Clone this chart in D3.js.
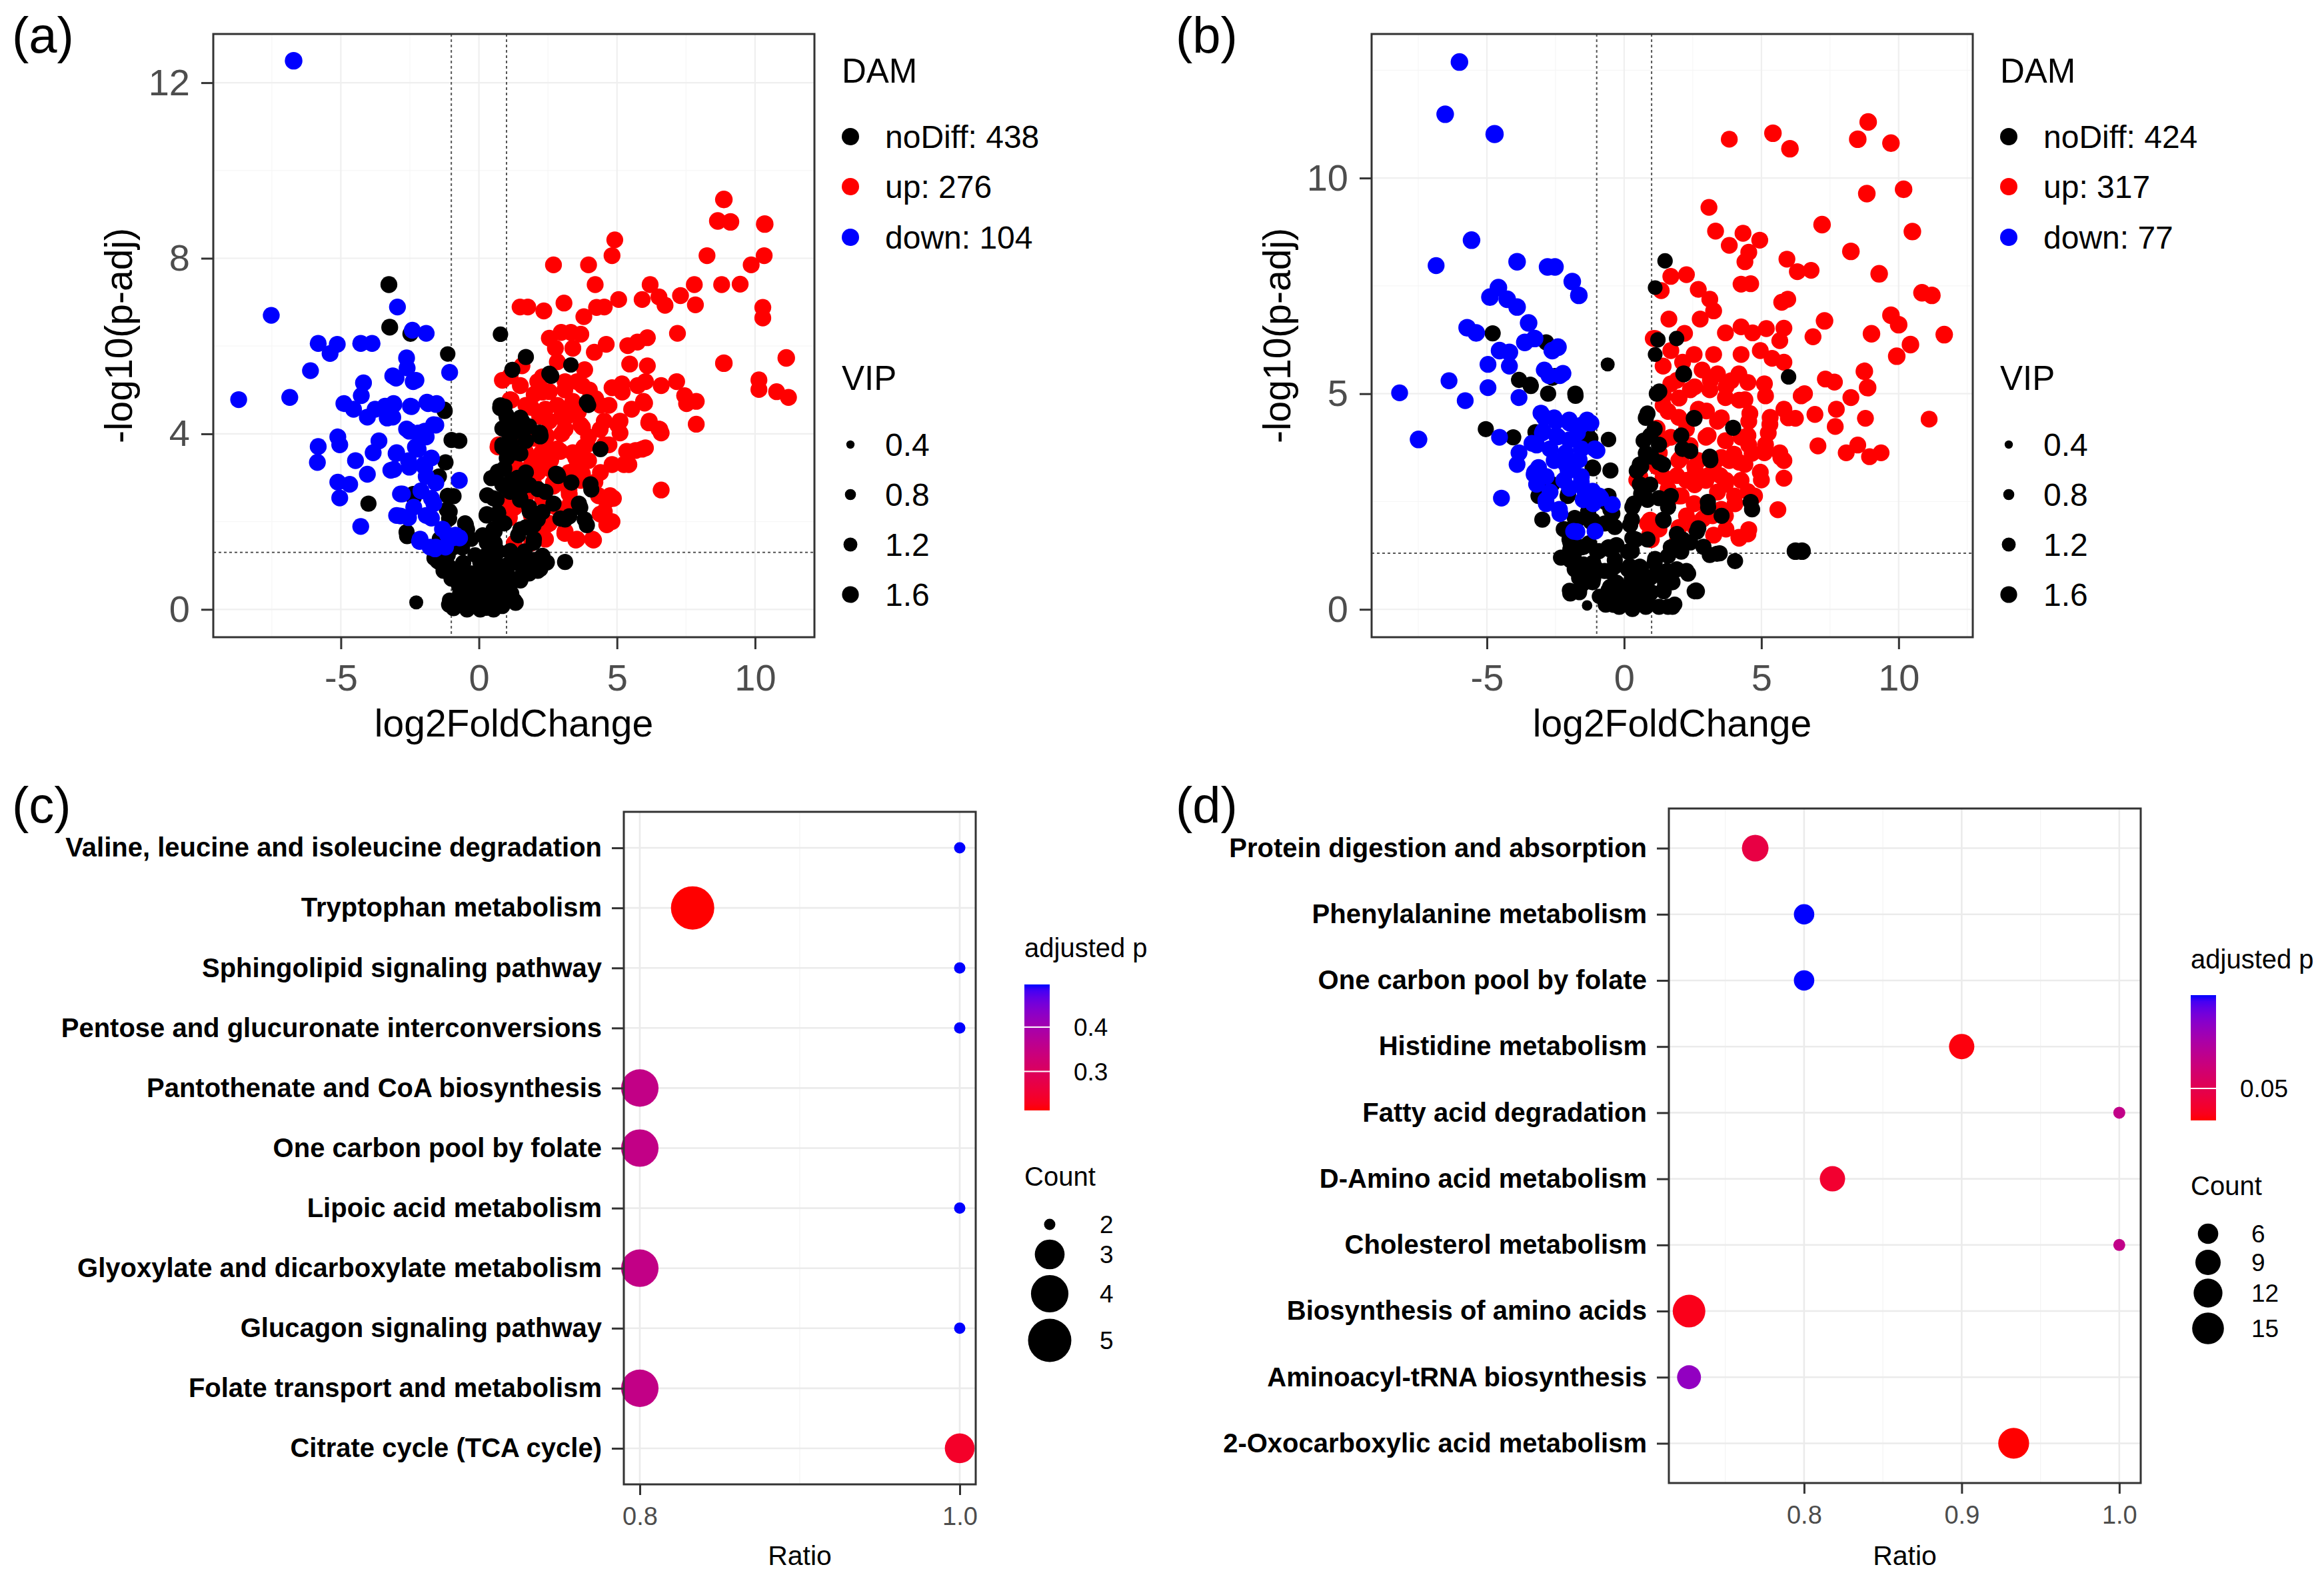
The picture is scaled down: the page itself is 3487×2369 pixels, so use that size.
<!DOCTYPE html>
<html><head><meta charset="utf-8">
<script src="https://cdn.jsdelivr.net/npm/d3@7"></script>
<style>body{margin:0;background:#fff}svg{display:block}</style>
</head><body>
<svg id="fig" width="3487" height="2369"></svg>
<script>
// ---------------- DATA ----------------
// Panel (a) volcano: [log2FoldChange, -log10(p-adj), VIP]
const aUp = [[8.87,9.34,1.6],[8.65,8.85,1.6],[9.11,8.83,1.6],[10.35,8.78,1.6],[4.92,8.42,1.5],[4.82,8.06,1.5],[2.70,7.85,1.5],[3.97,7.85,1.5],[8.26,8.06,1.5],[10.33,8.06,1.5],[9.86,7.85,1.5],[4.21,7.40,1.5],[6.20,7.40,1.5],[7.80,7.40,1.5],[8.79,7.40,1.5],[9.46,7.41,1.5],[1.49,6.89,1.5],[1.77,6.89,1.5],[2.35,6.80,1.5],[3.08,6.98,1.5],[3.80,6.67,1.5],[4.26,6.88,1.5],[4.54,6.89,1.5],[5.06,7.06,1.5],[5.91,7.06,1.5],[6.52,7.12,1.5],[6.74,6.93,1.5],[7.30,7.15,1.5],[7.84,6.94,1.5],[10.28,6.88,1.5],[10.28,6.64,1.5],[7.19,6.29,1.5],[2.55,6.18,1.5],[2.98,6.31,1.5],[3.33,6.31,1.5],[3.69,6.27,1.5],[2.77,5.95,1.5],[3.40,5.95,1.5],[4.18,5.86,1.5],[4.61,6.04,1.5],[5.39,6.01,1.5],[5.74,6.09,1.5],[6.10,6.19,1.5],[5.46,5.59,1.5],[6.10,5.55,1.5],[8.87,5.61,1.6],[11.13,5.73,1.6],[10.14,5.23,1.5],[10.14,5.01,1.5],[10.78,4.96,1.5],[11.21,4.83,1.5],[1.56,5.55,1.5],[1.13,5.32,1.5],[2.13,5.19,1.5],[2.55,4.96,1.5],[3.12,5.19,1.5],[3.83,5.46,1.5],[4.82,5.05,1.5],[5.18,5.14,1.5],[6.03,5.19,1.5],[6.60,5.10,1.5],[7.16,5.19,1.5],[7.45,4.87,1.5],[7.87,4.74,1.5],[7.52,4.69,1.5],[1.13,4.78,1.5],[1.70,4.65,1.5],[2.41,4.56,1.5],[2.84,4.65,1.5],[3.40,4.74,1.5],[4.40,4.65,1.5],[4.54,4.29,1.5],[5.53,4.56,1.5],[5.96,4.74,1.5],[5.11,4.29,1.5],[6.17,4.29,1.5],[6.52,4.11,1.5],[6.60,4.02,1.5],[7.87,4.22,1.5],[2.55,4.29,1.5],[3.12,4.11,1.5],[3.69,4.20,1.5],[3.97,3.93,1.5],[4.54,3.75,1.5],[5.11,4.02,1.5],[5.67,3.62,1.5],[6.03,3.68,1.5],[5.25,3.30,1.5],[4.82,3.30,1.5],[0.71,3.75,1.5],[1.28,3.66,1.5],[1.70,3.57,1.5],[2.27,3.57,1.5],[2.84,3.66,1.5],[3.40,3.57,1.5],[3.97,3.39,1.5],[4.40,3.12,1.5],[1.13,3.30,1.5],[1.56,3.03,1.5],[2.13,3.12,1.5],[2.55,3.21,1.5],[3.26,3.12,1.5],[3.69,2.94,1.5],[1.99,2.85,1.5],[2.70,2.81,1.5],[3.26,2.72,1.5],[0.99,2.59,1.5],[0.99,2.14,1.5],[1.28,2.32,1.5],[6.60,2.72,1.5],[4.33,2.59,1.5],[4.75,2.59,1.5],[4.54,2.23,1.5],[4.82,2.00,1.5],[2.98,2.23,1.5],[2.55,1.96,1.5],[3.12,1.78,1.5],[3.55,1.60,1.5],[4.11,1.60,1.5],[0.35,1.62,1.5],[1.91,1.51,1.5],[2.41,1.60,1.5],[1.28,1.51,1.5],[1.70,2.59,1.5],[2.41,3.75,1.5],[2.98,4.38,1.5],[3.55,5.19,1.5],[2.84,5.64,1.5],[2.00,4.90,1.5],[2.30,5.30,1.5],[3.00,4.00,1.5],[3.60,4.50,1.5],[2.00,3.90,1.5],[2.60,3.40,1.5],[3.80,3.70,1.5],[4.20,2.90,1.5],[1.60,4.20,1.5],[3.30,2.40,1.5],[2.90,3.00,1.5],[4.68,2.50,1.5],[3.20,4.40,1.5],[1.90,3.30,1.5],[3.50,3.20,1.5],[4.00,5.00,1.5],[2.20,4.40,1.5],
  [1.09,2.09,1.6],[1.09,2.49,1.6],[1.17,3.85,1.5],[1.66,3.60,1.6],[0.69,3.70,1.5],[1.17,4.77,1.5],[0.85,5.22,1.5],[1.33,3.25,1.5],[2.22,3.20,1.5],[1.90,2.14,1.5],[1.66,2.43,1.5],[2.30,1.63,1.5],[2.46,1.93,1.5],[3.11,1.73,1.5],[3.51,1.58,1.5],[4.15,1.58,1.5],[4.63,1.93,1.5],[4.55,2.53,1.5],[4.87,2.53,1.5],[4.39,2.17,1.5],[2.30,2.53,1.5],[2.79,2.33,1.5],[3.27,2.63,1.5],[3.75,3.09,1.5],[3.51,3.45,1.5],[2.95,3.60,1.5],[2.46,3.95,1.5],[3.11,4.10,1.5],[3.75,4.15,1.5],[4.39,4.10,1.5],[5.03,4.20,1.5],[4.71,3.75,1.5],[5.35,3.60,1.5],[5.91,3.65,1.5],[5.43,3.30,1.5],[6.15,4.25,1.5],[6.55,4.10,1.5],[5.19,4.95,1.5],[4.71,4.65,1.5],[4.23,4.80,1.5],[3.75,5.10,1.5],[3.11,5.00,1.5],[2.30,4.95,1.5],[1.90,4.60,1.5],[1.50,5.10,1.5],[6.00,4.70,1.5],[5.75,5.10,1.5],[2.06,3.45,1.5],[2.70,2.89,1.5],[3.91,3.75,1.5],[3.11,4.55,1.5]];
const aDown = [[-6.71,12.50,1.6],[-7.52,6.70,1.5],[-8.70,4.78,1.5],[-6.85,4.83,1.5],[-5.82,6.06,1.5],[-5.39,5.83,1.5],[-5.13,6.04,1.5],[-4.28,6.06,1.5],[-3.87,6.06,1.5],[-2.95,6.89,1.5],[-2.41,6.36,1.5],[-1.91,6.29,1.5],[-6.10,5.44,1.5],[-2.62,5.73,1.5],[-2.60,5.50,1.5],[-3.12,5.32,1.5],[-2.38,5.19,1.5],[-1.06,5.40,1.5],[-4.18,5.16,1.5],[-4.26,4.87,1.5],[-4.89,4.69,1.5],[-4.54,4.56,1.5],[-4.04,4.38,1.5],[-3.76,4.56,1.5],[-3.40,4.63,1.5],[-3.09,4.69,1.5],[-3.12,4.38,1.5],[-2.48,4.63,1.5],[-1.84,4.69,1.5],[-1.53,4.69,1.5],[-2.62,4.11,1.5],[-2.20,4.02,1.5],[-1.56,4.20,1.5],[-1.91,3.93,1.5],[-5.11,3.93,1.5],[-5.04,3.75,1.5],[-5.82,3.71,1.5],[-5.85,3.35,1.5],[-4.47,3.39,1.5],[-3.83,3.57,1.5],[-3.62,3.84,1.5],[-2.98,3.57,1.5],[-2.55,3.39,1.5],[-1.99,3.30,1.5],[-1.91,3.03,1.5],[-3.19,3.17,1.5],[-4.04,3.08,1.5],[-5.11,2.90,1.5],[-4.68,2.85,1.5],[-5.04,2.54,1.5],[-2.77,2.63,1.5],[-1.63,2.41,1.5],[-1.91,2.14,1.5],[-2.98,2.14,1.5],[-2.55,2.09,1.5],[-4.28,1.89,1.5],[-2.13,1.60,1.5],[-1.56,1.42,1.5],[-1.13,1.69,1.5],[-0.71,2.94,1.5],[-0.85,1.69,1.5],[-1.77,1.42,1.5],[-1.21,1.42,1.5],[-2.30,3.70,1.5],[-2.10,2.70,1.5],
  [-2.15,1.55,1.5],[-1.59,1.38,1.5],[-0.95,1.63,1.5],[-0.70,1.63,1.5],[-1.32,1.83,1.5],[-1.72,2.08,1.5],[-2.84,2.13,1.5],[-2.36,2.33,1.5],[-2.84,2.63,1.5],[-1.72,2.53,1.5],[-1.56,2.88,1.5],[-1.96,3.24,1.5],[-2.52,3.24,1.5],[-3.08,3.19,1.5],[-3.00,3.55,1.5],[-2.20,3.65,1.5],[-1.72,3.45,1.5],[-2.52,4.06,1.5],[-1.96,4.06,1.5],[-1.64,4.21,1.5],[-3.08,4.67,1.5],[-2.44,4.62,1.5],[-1.88,4.72,1.5],[-1.56,4.67,1.5],[-2.28,5.22,1.5],[-3.00,5.27,1.5],[-3.32,4.36,1.5]];
const aNo = [[-3.26,7.40,1.5],[-3.23,6.43,1.5],[-2.48,6.28,1.4],[-1.13,5.82,1.3],[-1.25,4.56,1.3],[-0.99,3.86,1.4],[-0.71,3.84,1.4],[-1.21,3.35,1.4],[-4.00,2.41,1.4],[-2.38,2.63,1.4],[-2.62,1.76,1.4],[-1.45,3.03,1.4],[-1.13,2.59,1.4],[-1.06,2.23,1.4],[-0.50,1.96,1.4],[-1.42,1.60,1.4],[-2.27,0.16,1.1],[-1.49,1.10,1.4],[-1.28,0.88,1.4],[-0.99,0.70,1.4],[-0.57,1.06,1.4],[-0.35,0.79,1.4],[-1.06,0.21,1.3],[-0.78,0.12,1.3],[-0.43,0.07,1.3],[-0.14,0.07,1.3],[-0.71,0.52,1.4],[-0.28,0.43,1.4],[-0.14,0.61,1.4],[-0.57,0.34,1.4],[-0.85,0.88,1.4],[-1.13,1.24,1.4],[0.78,6.27,1.3],[1.70,5.75,1.4],[1.21,5.46,1.4],[2.55,5.37,1.4],[3.33,5.57,1.3],[0.78,4.65,1.4],[0.99,4.43,1.4],[1.56,4.29,1.4],[1.13,3.93,1.4],[2.20,4.02,1.5],[3.97,4.65,1.3],[1.35,3.57,1.4],[0.57,3.03,1.4],[0.92,3.21,1.4],[1.70,3.12,1.4],[2.84,3.08,1.4],[4.04,2.85,1.4],[3.62,2.41,1.4],[3.83,2.05,1.4],[3.12,2.05,1.4],[1.99,1.60,1.4],[2.27,1.15,1.4],[3.12,1.08,1.4],[0.28,2.14,1.4],[0.14,1.69,1.4],[0.57,1.51,1.4],[1.13,1.33,1.4],[1.56,1.06,1.4],[2.13,0.88,1.4],[1.42,0.70,1.4],[1.28,0.21,1.3],[0.85,0.07,1.3],[0.28,0.03,1.3],[0.14,0.34,1.3],[0.43,0.52,1.3],[0.85,0.34,1.3],[0.00,0.70,1.3],[0.28,0.97,1.4],[0.71,0.79,1.4],[1.13,0.61,1.4],[0.28,1.24,1.4],[0.92,1.96,1.4],[1.49,2.50,1.4],[1.84,2.23,1.4],[2.13,2.05,1.4],[2.70,2.41,1.4],[1.13,2.68,1.4],[0.64,2.50,1.4],[0.85,3.75,1.4],[1.13,4.29,1.4],[1.70,3.84,1.4],[2.41,2.68,1.4],[1.42,1.69,1.4],[1.70,1.87,1.4],[0.57,1.78,1.4],[-0.14,1.24,1.3],[-0.28,1.60,1.3],[0.10,0.20,1.2],[0.45,0.15,1.2],[-0.30,0.25,1.2],[0.60,1.10,1.3],[1.00,1.00,1.4],[-0.60,1.40,1.3],[0.30,2.60,1.4],[0.70,2.20,1.4],[1.40,3.00,1.4],[1.60,2.80,1.4],[0.95,2.80,1.4],
  [-1.08,0.11,1.4],[-0.92,0.03,1.4],[-0.43,0.00,1.4],[0.05,0.00,1.4],[0.53,0.00,1.4],[0.85,0.10,1.4],[1.33,0.15,1.4],[1.17,0.36,1.4],[0.69,0.31,1.4],[0.21,0.26,1.4],[-0.27,0.31,1.4],[-0.68,0.36,1.4],[-0.76,0.61,1.4],[-0.43,0.56,1.4],[0.05,0.51,1.4],[0.45,0.56,1.4],[0.85,0.51,1.4],[1.17,0.61,1.4],[1.50,0.66,1.4],[1.82,0.82,1.4],[2.22,0.92,1.4],[2.46,1.07,1.4],[1.98,1.12,1.4],[1.50,1.02,1.4],[1.01,0.92,1.4],[0.53,0.92,1.4],[0.21,0.82,1.4],[-0.27,0.82,1.4],[-0.60,0.92,1.4],[-1.08,0.97,1.4],[-1.41,1.07,1.4],[-1.61,1.17,1.4],[-1.24,1.32,1.4],[-0.92,1.42,1.4],[-0.60,1.52,1.4],[-0.43,1.82,1.4],[-0.47,1.92,1.4],[-1.36,1.62,1.4],[-1.12,1.47,1.4],[-2.60,1.67,1.4],[-2.36,2.55,1.4],[-1.16,2.27,1.4],[-1.08,2.07,1.4],[-0.92,2.58,1.4],[-1.24,4.52,1.4],[0.37,1.22,1.4],[0.69,1.32,1.4],[1.17,1.27,1.4],[1.66,1.32,1.4],[2.30,1.22,1.4],[0.29,1.52,1.4],[0.05,1.07,1.4],[0.53,1.82,1.4],[0.29,2.17,1.4],[0.69,2.12,1.4],[0.53,2.53,1.4],[0.45,2.99,1.4],[0.69,3.14,1.4],[0.85,2.84,1.4],[1.17,2.94,1.4],[1.50,2.99,1.4],[1.82,2.84,1.4],[2.14,2.74,1.4],[1.50,2.53,1.4],[1.82,2.33,1.4],[1.98,1.92,1.4],[1.50,1.82,1.4],[2.30,2.22,1.4],[1.98,1.52,1.4],[2.87,3.04,1.4],[2.95,2.07,1.4],[3.27,2.12,1.4],[3.67,2.32,1.4],[3.91,1.92,1.4],[4.07,2.73,1.4],[2.22,3.95,1.5],[1.17,3.75,1.4],[0.85,3.70,1.4],[0.93,4.62,1.4],[0.77,4.59,1.4],[1.01,4.37,1.4],[1.50,4.37,1.4],[1.42,4.07,1.4],[1.82,4.17,1.4],[0.85,4.12,1.4],[1.50,3.55,1.4],[1.01,3.45,1.4],[2.62,5.32,1.4],[3.91,4.72,1.4],[4.40,3.65,1.4],[2.79,3.09,1.4],[3.35,2.89,1.4]];

// Panel (b) volcano
const bUp = [[8.89,11.30,1.6],[8.51,10.90,1.6],[9.72,10.81,1.6],[3.83,10.90,1.5],[5.42,11.04,1.6],[6.04,10.68,1.6],[8.84,9.64,1.6],[10.18,9.74,1.6],[3.09,9.32,1.5],[7.21,8.92,1.6],[10.50,8.76,1.6],[3.33,8.77,1.5],[4.33,8.72,1.5],[4.94,8.56,1.5],[3.83,8.44,1.5],[4.54,8.28,1.5],[4.40,8.06,1.5],[8.26,8.30,1.6],[5.93,8.12,1.5],[6.31,7.83,1.5],[6.81,7.86,1.5],[9.29,7.78,1.6],[1.70,7.72,1.5],[2.27,7.76,1.5],[4.26,7.54,1.5],[4.61,7.55,1.5],[1.35,7.39,1.5],[2.70,7.42,1.5],[3.12,7.19,1.5],[10.85,7.34,1.6],[11.21,7.28,1.6],[5.74,7.12,1.5],[5.96,7.19,1.5],[3.26,6.92,1.5],[1.63,6.73,1.5],[2.77,6.73,1.5],[9.72,6.82,1.6],[10.00,6.60,1.6],[7.30,6.69,1.6],[5.82,6.52,1.5],[4.26,6.55,1.5],[4.68,6.41,1.5],[5.18,6.51,1.5],[6.88,6.32,1.5],[9.01,6.39,1.6],[11.66,6.37,1.6],[1.13,6.28,1.5],[3.69,6.41,1.5],[10.43,6.14,1.6],[9.93,5.87,1.6],[5.67,6.23,1.5],[1.70,6.00,1.5],[2.55,5.91,1.5],[3.26,5.91,1.5],[4.26,5.91,1.5],[4.96,6.00,1.5],[5.39,5.82,1.5],[5.82,5.73,1.5],[1.42,5.64,1.5],[2.13,5.73,1.5],[2.84,5.55,1.5],[3.40,5.46,1.5],[4.18,5.46,1.5],[8.75,5.52,1.6],[7.33,5.34,1.5],[7.66,5.27,1.5],[8.87,5.14,1.6],[8.26,4.91,1.5],[6.57,5.00,1.5],[5.11,5.23,1.5],[1.70,5.23,1.5],[2.41,5.09,1.5],[3.12,5.09,1.5],[3.69,4.91,1.5],[4.40,4.86,1.5],[5.82,4.64,1.5],[5.32,4.45,1.5],[6.24,4.43,1.5],[6.95,4.52,1.5],[7.73,4.64,1.5],[7.69,4.24,1.5],[8.79,4.43,1.5],[11.11,4.41,1.5],[1.42,4.73,1.5],[1.99,4.45,1.5],[2.70,4.64,1.5],[3.40,4.36,1.5],[4.54,4.36,1.5],[5.25,4.09,1.5],[1.70,3.99,1.5],[2.27,4.18,1.5],[2.98,3.99,1.5],[3.69,3.91,1.5],[4.26,3.99,1.5],[4.54,3.81,1.5],[5.11,3.63,1.5],[5.67,3.63,1.5],[5.82,3.45,1.5],[7.06,3.79,1.5],[8.09,3.63,1.5],[8.51,3.81,1.5],[8.94,3.54,1.5],[9.36,3.63,1.5],[1.28,3.63,1.5],[1.99,3.45,1.5],[2.70,3.45,1.5],[3.26,3.36,1.5],[3.83,3.45,1.5],[4.40,3.36,1.5],[4.96,3.18,1.5],[5.82,3.04,1.5],[1.42,3.08,1.5],[2.27,2.99,1.5],[2.98,2.99,1.5],[3.69,2.90,1.5],[4.26,2.99,1.5],[4.75,2.63,1.5],[5.60,2.31,1.5],[1.99,2.63,1.5],[2.55,2.45,1.5],[3.40,2.72,1.5],[4.04,2.45,1.5],[2.27,2.17,1.5],[2.84,2.08,1.5],[3.69,2.17,1.5],[4.54,1.85,1.5],[4.18,1.67,1.5],[3.26,1.72,1.5],[0.57,3.08,1.5],[0.85,1.99,1.5],[0.99,1.62,1.5],[0.71,2.90,1.5],[1.06,6.28,1.5],[2.00,4.90,1.5],[3.00,4.60,1.5],[2.40,3.80,1.5],[3.50,3.10,1.5],[1.60,2.50,1.5],[2.00,1.90,1.5],[3.00,2.40,1.5],[4.00,3.60,1.5],[1.20,4.20,1.5],[3.90,5.30,1.5],[2.20,6.40,1.5],[2.60,3.20,1.5],
  [0.95,2.06,1.6],[0.95,1.75,1.6],[0.46,3.00,1.5],[1.27,1.86,1.5],[1.92,1.55,1.5],[1.19,3.31,1.5],[1.44,3.93,1.5],[1.60,4.59,1.5],[1.44,4.95,1.5],[2.08,3.52,1.5],[2.08,2.63,1.5],[2.57,2.89,1.5],[3.22,2.17,1.5],[3.71,1.86,1.5],[4.19,1.65,1.5],[4.51,1.75,1.5],[5.00,3.00,1.5],[4.51,2.73,1.5],[4.02,2.63,1.5],[3.54,2.32,1.5],[2.89,2.11,1.5],[2.57,1.91,1.5],[3.71,2.99,1.5],[3.06,3.10,1.5],[4.19,3.41,1.5],[4.66,3.62,1.5],[5.15,3.82,1.5],[5.71,3.52,1.5],[5.31,4.29,1.5],[5.98,4.44,1.5],[4.58,4.54,1.5],[4.19,4.85,1.5],[3.71,5.16,1.5],[3.14,5.31,1.5],[2.57,5.16,1.5],[1.92,5.31,1.5],[4.51,5.26,1.5],[5.15,4.95,1.5],[6.45,4.95,1.5],[3.06,4.03,1.5],[3.54,4.44,1.5],[2.57,3.31,1.5],[1.92,3.10,1.5],[1.60,2.79,1.5],[3.54,3.52,1.5],[4.51,4.03,1.5]];
const bDown = [[-6.00,12.69,1.6],[-6.52,11.48,1.6],[-4.72,11.02,1.7],[-5.56,8.56,1.6],[-6.85,7.97,1.5],[-3.90,8.06,1.6],[-2.79,7.94,1.6],[-2.52,7.94,1.6],[-1.89,7.60,1.6],[-1.65,7.28,1.6],[-4.58,7.46,1.6],[-4.89,7.24,1.6],[-4.26,7.19,1.6],[-3.90,7.01,1.6],[-3.48,6.64,1.6],[-5.72,6.53,1.6],[-5.39,6.41,1.6],[-3.62,6.19,1.6],[-3.26,6.28,1.6],[-4.54,6.00,1.6],[-4.18,5.96,1.6],[-2.62,6.00,1.6],[-2.41,6.08,1.6],[-4.96,5.68,1.5],[-4.18,5.64,1.5],[-2.91,5.55,1.5],[-2.23,5.47,1.5],[-6.38,5.30,1.5],[-4.96,5.14,1.5],[-5.79,4.84,1.5],[-3.83,4.91,1.5],[-8.18,5.02,1.5],[-7.49,3.94,1.6],[-4.54,3.99,1.5],[-3.83,3.63,1.5],[-3.90,3.36,1.5],[-4.47,2.58,1.5],[-2.91,4.45,1.5],[-2.48,4.36,1.5],[-1.99,4.32,1.5],[-1.56,4.27,1.5],[-1.21,4.32,1.5],[-2.98,4.09,1.5],[-2.41,4.00,1.5],[-1.70,4.09,1.5],[-3.19,3.81,1.5],[-2.70,3.72,1.5],[-2.13,3.63,1.5],[-2.55,3.45,1.5],[-1.84,3.36,1.5],[-0.99,3.68,1.5],[-3.26,3.18,1.5],[-2.84,3.08,1.5],[-2.20,2.99,1.5],[-1.56,3.08,1.5],[-3.19,2.90,1.5],[-2.70,2.72,1.5],[-1.99,2.81,1.5],[-1.42,2.72,1.5],[-1.49,2.54,1.5],[-1.13,2.45,1.5],[-0.85,2.58,1.5],[-2.84,2.45,1.5],[-2.34,2.22,1.5],[-1.06,1.81,1.5],[-1.84,1.81,1.5],
  [-1.72,1.80,1.5],[-2.36,2.32,1.5],[-2.85,2.53,1.5],[-3.12,3.29,1.5],[-3.28,3.13,1.5],[-3.36,3.85,1.5],[-3.03,4.55,1.5],[-2.55,4.44,1.5],[-2.00,4.39,1.5],[-1.35,4.39,1.5],[-2.95,4.13,1.5],[-2.47,4.03,1.5],[-2.00,3.93,1.5],[-1.56,3.72,1.5],[-1.07,3.72,1.5],[-2.12,3.36,1.5],[-1.64,3.47,1.5],[-2.04,3.21,1.5],[-1.56,2.95,1.5],[-1.15,2.74,1.5],[-0.91,2.63,1.5],[-0.43,2.43,1.5],[-2.34,5.42,1.5],[-2.74,5.42,1.5]];
const bNo = [[-4.79,6.40,1.4],[-2.84,6.19,1.4],[-2.52,5.41,1.4],[-0.60,5.68,1.1],[-3.83,5.32,1.4],[-3.40,5.18,1.4],[-2.77,5.00,1.4],[-1.77,4.95,1.4],[-5.04,4.18,1.4],[-4.04,3.99,1.4],[-3.23,4.11,1.4],[-1.35,4.18,1.4],[-0.57,3.94,1.3],[-1.13,3.27,1.4],[-0.50,3.22,1.4],[-3.05,2.63,1.4],[-2.62,2.90,1.4],[-2.06,2.63,1.4],[-0.57,2.63,1.4],[-0.50,2.31,1.4],[-2.98,2.08,1.4],[-2.13,1.85,1.4],[-1.70,2.08,1.4],[-1.21,2.03,1.4],[-0.71,1.99,1.4],[-1.99,1.62,1.4],[-1.84,1.26,1.4],[-1.70,0.89,1.4],[-1.99,0.44,1.3],[-1.63,0.39,1.3],[-1.35,0.09,0.6],[-1.28,1.53,1.4],[-0.92,1.35,1.4],[-0.57,1.44,1.4],[-0.28,1.49,1.4],[-1.13,1.08,1.4],[-0.71,0.89,1.4],[-0.35,0.99,1.4],[-1.13,0.71,1.4],[-0.57,0.44,1.4],[-0.28,0.62,1.4],[0.00,0.26,1.4],[-0.21,0.16,1.3],[-1.56,1.44,1.4],[-1.42,0.99,1.4],[1.49,8.08,1.3],[1.13,7.46,1.2],[1.23,6.25,1.3],[1.13,5.91,1.2],[1.91,6.28,1.3],[2.17,5.46,1.5],[5.99,5.39,1.3],[1.28,5.05,1.4],[0.85,4.54,1.4],[2.55,4.43,1.5],[3.97,4.21,1.4],[0.71,3.91,1.4],[0.99,3.54,1.4],[0.57,3.36,1.4],[1.42,3.36,1.4],[2.13,3.72,1.4],[3.12,3.54,1.4],[0.35,2.45,1.4],[0.85,2.54,1.4],[1.70,2.63,1.4],[3.05,2.49,1.4],[4.61,2.49,1.4],[3.55,2.17,1.4],[2.70,1.88,1.4],[6.24,1.35,1.6],[6.48,1.35,1.6],[4.04,1.12,1.4],[3.12,1.26,1.4],[3.48,1.30,1.4],[2.27,0.89,1.4],[2.62,0.44,1.4],[1.84,0.12,1.3],[1.42,0.44,1.4],[0.85,0.16,1.3],[0.35,0.07,1.3],[0.71,0.44,1.4],[0.28,0.71,1.4],[0.57,0.99,1.4],[1.13,1.17,1.4],[1.70,1.44,1.4],[2.13,1.62,1.4],[0.28,1.35,1.4],[0.43,1.62,1.4],[0.85,1.62,1.4],[1.42,2.08,1.4],[0.28,2.08,1.4],[0.57,2.90,1.4],[1.13,0.80,1.4],[1.56,0.89,1.4],[0.14,0.53,1.4],[1.49,0.62,1.4],[-0.90,0.30,1.3],[-1.50,0.60,1.4],[-2.30,1.20,1.4],[0.60,0.20,1.3],[1.00,0.40,1.3],[-0.40,0.10,1.3],[0.20,1.00,1.4],
  [-1.96,0.37,1.4],[-1.64,0.45,1.4],[-0.67,0.27,1.4],[-0.18,0.06,1.4],[0.30,0.01,1.4],[0.79,0.06,1.4],[1.27,0.06,1.4],[1.76,0.06,1.4],[2.57,0.42,1.4],[0.46,0.32,1.4],[-0.02,0.37,1.4],[0.95,0.37,1.4],[1.44,0.42,1.4],[-0.51,0.52,1.4],[-1.15,0.63,1.4],[-1.64,0.73,1.4],[-1.80,0.93,1.4],[-1.96,1.14,1.4],[-1.96,1.39,1.4],[-1.96,1.55,1.4],[-1.48,1.45,1.4],[-0.99,1.34,1.4],[-0.51,1.39,1.4],[-0.34,1.14,1.4],[-0.51,0.88,1.4],[-0.99,0.93,1.4],[-1.48,1.04,1.4],[0.14,1.34,1.4],[0.30,1.65,1.4],[0.22,1.96,1.4],[0.30,2.37,1.4],[0.62,2.68,1.4],[0.95,2.89,1.4],[1.27,2.58,1.4],[1.60,2.37,1.4],[1.44,2.06,1.4],[1.92,1.75,1.4],[2.41,1.55,1.4],[2.89,1.45,1.4],[3.38,1.29,1.4],[2.65,0.42,1.4],[2.08,1.34,1.4],[1.60,1.24,1.4],[1.11,1.08,1.4],[0.62,0.93,1.4],[0.14,0.93,1.4],[0.46,0.63,1.4],[0.95,0.73,1.4],[1.44,0.83,1.4],[1.92,0.93,1.4],[2.33,0.83,1.4],[1.76,0.63,1.4],[-0.18,0.42,1.4],[-0.67,0.11,1.4],[1.60,0.06,1.4],[1.27,3.41,1.4],[0.62,3.31,1.4],[0.46,3.21,1.4],[0.79,3.62,1.4],[0.95,4.03,1.4],[0.79,4.44,1.4],[1.19,5.00,1.4],[1.11,4.18,1.4],[1.27,3.82,1.4],[2.08,4.03,1.4],[2.41,3.67,1.4],[3.14,3.46,1.4],[3.06,2.37,1.4],[2.65,1.80,1.4],[4.66,2.32,1.4],[-1.78,5.00,1.4],[-1.15,3.29,1.4],[-1.23,3.96,1.4],[-1.72,4.01,1.4],[-3.12,2.63,1.4],[-2.77,2.84,1.4],[-2.04,2.68,1.4],[-2.20,1.86,1.4],[-1.80,2.12,1.4],[-1.15,2.06,1.4],[-0.43,2.22,1.4],[-0.34,1.91,1.4],[-0.67,2.48,1.4],[-1.31,2.27,1.4],[-2.61,5.37,1.4],[-3.42,5.21,1.4]];

const volcXTicks = [-5, 0, 5, 10];
const volcAYTicks = [0, 4, 8, 12];
const volcBYTicks = [0, 5, 10];
const vipBreaks = [0.4, 0.8, 1.2, 1.6];
const damLabelsA = ["noDiff: 438", "up: 276", "down: 104"];
const damLabelsB = ["noDiff: 424", "up: 317", "down: 77"];
const damColors = ["#000000", "#FF0000", "#0000FF"];

// Panel (c) enrichment
const cPathways = ["Valine, leucine and isoleucine degradation","Tryptophan metabolism","Sphingolipid signaling pathway","Pentose and glucuronate interconversions","Pantothenate and CoA biosynthesis","One carbon pool by folate","Lipoic acid metabolism","Glyoxylate and dicarboxylate metabolism","Glucagon signaling pathway","Folate transport and metabolism","Citrate cycle (TCA cycle)"];
const cRatio = [1.0, 0.833, 1.0, 1.0, 0.8, 0.8, 1.0, 0.8, 1.0, 0.8, 1.0];
const cCount = [2, 5, 2, 2, 4, 4, 2, 4, 2, 4, 3];
const cPadj = [0.4965, 0.212, 0.4965, 0.4965, 0.352, 0.352, 0.4965, 0.352, 0.4965, 0.352, 0.24];
const cXTicks = [0.8, 1.0];
const cPTicks = [0.3, 0.4];
const cCountBreaks = [2, 3, 4, 5];

// Panel (d) enrichment
const dPathways = ["Protein digestion and absorption","Phenylalanine metabolism","One carbon pool by folate","Histidine metabolism","Fatty acid degradation","D-Amino acid metabolism","Cholesterol metabolism","Biosynthesis of amino acids","Aminoacyl-tRNA biosynthesis","2-Oxocarboxylic acid metabolism"];
const dRatio = [0.769, 0.8, 0.8, 0.9, 1.0, 0.818, 1.0, 0.727, 0.727, 0.933];
const dCount = [10, 6, 6, 9, 4, 9, 4, 16, 8, 14];
const dPadj = [0.045, 0.123, 0.123, 0.027, 0.074, 0.037, 0.074, 0.030, 0.098, 0.025];
const dXTicks = [0.8, 0.9, 1.0];
const dPTicks = [0.05];
const dCountBreaks = [6, 9, 12, 15];

// ---------------- DRAWING ----------------
const FONT = "'Liberation Sans', Arial, Helvetica, sans-serif";
const svg = d3.select("#fig");
svg.append("rect").attr("width", 3487).attr("height", 2369).attr("fill", "#fff");

function styleAxis(sel, size, color, weight) {
  sel.select(".domain").remove();
  sel.selectAll(".tick line").attr("stroke", "#333").attr("stroke-width", 3);
  sel.selectAll(".tick text").attr("font-family", FONT).attr("font-size", size)
     .attr("fill", color).attr("font-weight", weight || "normal");
}

function minorBetween(ticks, domain) {
  const step = ticks[1] - ticks[0];
  const out = [];
  for (let v = ticks[0] - step / 2; v <= domain[1] + 1e-9; v += step) {
    if (v >= domain[0] && v <= domain[1]) out.push(+v.toFixed(6));
  }
  return out;
}

function panelLabel(txt, x, y) {
  svg.append("text").attr("x", x).attr("y", y).text(txt)
    .attr("font-family", FONT).attr("font-size", 76).attr("fill", "#000");
}

function drawVolcano(p) {
  const g = svg.append("g");
  const x = d3.scaleLinear().domain(p.xDomain).range([p.left, p.right]);
  const y = d3.scaleLinear().domain(p.yDomain).range([p.bottom, p.top]);
  const r = d3.scaleLinear().domain([0.4, 1.6]).range([6.8, 13.2]);

  const grid = g.append("g");
  minorBetween(p.xTicks, p.xDomain).forEach(v => grid.append("line")
    .attr("x1", x(v)).attr("x2", x(v)).attr("y1", p.top).attr("y2", p.bottom)
    .attr("stroke", "#F6F6F6").attr("stroke-width", 1.2));
  minorBetween(p.yTicks, p.yDomain).forEach(v => grid.append("line")
    .attr("y1", y(v)).attr("y2", y(v)).attr("x1", p.left).attr("x2", p.right)
    .attr("stroke", "#F6F6F6").attr("stroke-width", 1.2));
  p.xTicks.forEach(v => grid.append("line")
    .attr("x1", x(v)).attr("x2", x(v)).attr("y1", p.top).attr("y2", p.bottom)
    .attr("stroke", "#EFEFEF").attr("stroke-width", 2.2));
  p.yTicks.forEach(v => grid.append("line")
    .attr("y1", y(v)).attr("y2", y(v)).attr("x1", p.left).attr("x2", p.right)
    .attr("stroke", "#EFEFEF").attr("stroke-width", 2.2));

  [-1, 1].forEach(v => g.append("line").attr("x1", x(v)).attr("x2", x(v))
    .attr("y1", p.top).attr("y2", p.bottom).attr("stroke", "#555")
    .attr("stroke-width", 2).attr("stroke-dasharray", "4,4"));
  g.append("line").attr("x1", p.left).attr("x2", p.right)
    .attr("y1", y(-Math.log10(0.05))).attr("y2", y(-Math.log10(0.05)))
    .attr("stroke", "#555").attr("stroke-width", 2).attr("stroke-dasharray", "4,4");

  const layers = [[p.up, "#FF0000"], [p.no, "#000000"], [p.down, "#0000FF"]];
  layers.forEach(([data, col]) => {
    g.append("g").selectAll("circle").data(data).join("circle")
      .attr("cx", d => x(d[0])).attr("cy", d => y(d[1])).attr("r", d => r(d[2]))
      .attr("fill", col);
  });

  g.append("rect").attr("x", p.left).attr("y", p.top)
    .attr("width", p.right - p.left).attr("height", p.bottom - p.top)
    .attr("fill", "none").attr("stroke", "#333").attr("stroke-width", 3);

  const xa = g.append("g").attr("transform", `translate(0,${p.bottom})`)
    .call(d3.axisBottom(x).tickValues(p.xTicks).tickSize(18).tickPadding(22).tickFormat(d => String(d)));
  styleAxis(xa, 56, "#4D4D4D");
  const ya = g.append("g").attr("transform", `translate(${p.left},0)`)
    .call(d3.axisLeft(y).tickValues(p.yTicks).tickSize(18).tickPadding(17).tickFormat(d => String(d)));
  styleAxis(ya, 56, "#4D4D4D");

  g.append("text").attr("x", (p.left + p.right) / 2).attr("y", 1085)
    .attr("text-anchor", "middle").attr("dominant-baseline", "central")
    .attr("font-family", FONT).attr("font-size", 57).text("log2FoldChange");
  g.append("text").attr("transform", `translate(${p.left - 142},${(p.top + p.bottom) / 2}) rotate(-90)`)
    .attr("text-anchor", "middle").attr("dominant-baseline", "central")
    .attr("font-family", FONT).attr("font-size", 57).text("-log10(p-adj)");

  const lx = p.right + 41;
  g.append("text").attr("x", lx).attr("y", 124).attr("font-family", FONT)
    .attr("font-size", 51).text("DAM");
  const damY = [205, 280, 356];
  p.damLabels.forEach((t, i) => {
    g.append("circle").attr("cx", lx + 13).attr("cy", damY[i]).attr("r", 13).attr("fill", damColors[i]);
    g.append("text").attr("x", lx + 65).attr("y", damY[i]).attr("dy", "0.36em")
      .attr("font-family", FONT).attr("font-size", 48).text(t);
  });
  g.append("text").attr("x", lx).attr("y", 585).attr("font-family", FONT)
    .attr("font-size", 51).text("VIP");
  const vipY = [667, 742, 817, 892];
  vipBreaks.forEach((v, i) => {
    g.append("circle").attr("cx", lx + 13).attr("cy", vipY[i]).attr("r", r(v) - 0.6).attr("fill", "#000");
    g.append("text").attr("x", lx + 65).attr("y", vipY[i]).attr("dy", "0.36em")
      .attr("font-family", FONT).attr("font-size", 48).text(v.toFixed(1));
  });
}

function drawDot(p) {
  const g = svg.append("g");
  const x = d3.scaleLinear().domain(p.xDomain).range([p.left, p.right]);
  const y = d3.scalePoint().domain(p.pathways).range([p.top, p.bottom]).padding(0.6);
  const pScale = d3.scaleLinear().domain(p.pDomain).range([0, 1]);
  const interp = d3.interpolateLab("#FF0000", "#0000FF");
  const col = v => interp(Math.max(0, Math.min(1, pScale(v))));
  const sz = c => p.rMin + (p.rMax - p.rMin) * Math.sqrt(Math.max(0, (c - p.cMin) / (p.cMax - p.cMin)));

  const grid = g.append("g");
  minorBetween(p.xTicks, p.xDomain).forEach(v => grid.append("line")
    .attr("x1", x(v)).attr("x2", x(v)).attr("y1", p.top).attr("y2", p.bottom)
    .attr("stroke", "#F4F4F4").attr("stroke-width", 1.3));
  p.xTicks.forEach(v => grid.append("line")
    .attr("x1", x(v)).attr("x2", x(v)).attr("y1", p.top).attr("y2", p.bottom)
    .attr("stroke", "#EBEBEB").attr("stroke-width", 2.6));
  p.pathways.forEach(v => grid.append("line")
    .attr("y1", y(v)).attr("y2", y(v)).attr("x1", p.left).attr("x2", p.right)
    .attr("stroke", "#EBEBEB").attr("stroke-width", 2.6));

  const data = p.pathways.map((name, i) => ({name, ratio: p.ratio[i], count: p.count[i], padj: p.padj[i]}));
  g.append("g").selectAll("circle").data(data).join("circle")
    .attr("cx", d => x(d.ratio)).attr("cy", d => y(d.name)).attr("r", d => sz(d.count))
    .attr("fill", d => col(d.padj));

  g.append("rect").attr("x", p.left).attr("y", p.top)
    .attr("width", p.right - p.left).attr("height", p.bottom - p.top)
    .attr("fill", "none").attr("stroke", "#333").attr("stroke-width", 3);

  const xa = g.append("g").attr("transform", `translate(0,${p.bottom})`)
    .call(d3.axisBottom(x).tickValues(p.xTicks).tickSize(16).tickPadding(18).tickFormat(d3.format(".1f")));
  styleAxis(xa, 38, "#4D4D4D");
  const ya = g.append("g").attr("transform", `translate(${p.left},0)`)
    .call(d3.axisLeft(y).tickSize(18).tickPadding(15));
  styleAxis(ya, 40, "#000", "bold");

  g.append("text").attr("x", (p.left + p.right) / 2).attr("y", 2334)
    .attr("text-anchor", "middle").attr("dominant-baseline", "central")
    .attr("font-family", FONT).attr("font-size", 41).text("Ratio");

  const L = p.legend;
  g.append("text").attr("x", L.x).attr("y", L.titleY).attr("font-family", FONT)
    .attr("font-size", 40).text("adjusted p");
  const gid = "grad" + p.id;
  const grad = svg.append("defs").append("linearGradient").attr("id", gid)
    .attr("x1", 0).attr("y1", 1).attr("x2", 0).attr("y2", 0);
  d3.range(0, 1.0001, 0.05).forEach(t => grad.append("stop")
    .attr("offset", t).attr("stop-color", interp(t)));
  g.append("rect").attr("x", L.x).attr("y", L.barTop).attr("width", L.barW)
    .attr("height", L.barBottom - L.barTop).attr("fill", `url(#${gid})`);
  const cb = d3.scaleLinear().domain(p.pDomain).range([L.barBottom, L.barTop]);
  p.pTicks.forEach(v => {
    g.append("line").attr("x1", L.x).attr("x2", L.x + L.barW).attr("y1", cb(v)).attr("y2", cb(v))
      .attr("stroke", "#fff").attr("stroke-width", 2);
    g.append("text").attr("x", L.x + L.barW + 36).attr("y", cb(v)).attr("dy", "0.36em")
      .attr("font-family", FONT).attr("font-size", 37).text(String(v));
  });
  g.append("text").attr("x", L.x).attr("y", L.countTitleY).attr("font-family", FONT)
    .attr("font-size", 40).text("Count");
  p.countBreaks.forEach((c, i) => {
    g.append("circle").attr("cx", L.dotX).attr("cy", L.countY[i]).attr("r", sz(c)).attr("fill", "#000");
    g.append("text").attr("x", L.labX).attr("y", L.countY[i]).attr("dy", "0.36em")
      .attr("font-family", FONT).attr("font-size", 37).text(String(c));
  });
}

drawVolcano({left: 320, right: 1222, top: 51, bottom: 956,
  xDomain: [-9.62, 12.15], yDomain: [-0.633, 13.11],
  xTicks: volcXTicks, yTicks: volcAYTicks,
  up: aUp, down: aDown, no: aNo, damLabels: damLabelsA});
drawVolcano({left: 2058, right: 2960, top: 51, bottom: 956,
  xDomain: [-9.2, 12.7], yDomain: [-0.645, 13.34],
  xTicks: volcXTicks, yTicks: volcBYTicks,
  up: bUp, down: bDown, no: bNo, damLabels: damLabelsB});

drawDot({id: "c", left: 936, right: 1464, top: 1218, bottom: 2227,
  xDomain: [0.79, 1.01], xTicks: cXTicks,
  pathways: cPathways, ratio: cRatio, count: cCount, padj: cPadj,
  pDomain: [0.212, 0.4965], pTicks: cPTicks,
  cMin: 2, cMax: 5, rMin: 8.5, rMax: 32.5, countBreaks: cCountBreaks,
  legend: {x: 1537, titleY: 1436, barTop: 1477, barBottom: 1666, barW: 38,
           countTitleY: 1779, countY: [1837, 1882, 1941, 2011], dotX: 1575, labX: 1650}});
drawDot({id: "d", left: 2504, right: 3212, top: 1213, bottom: 2225,
  xDomain: [0.7142, 1.0136], xTicks: dXTicks,
  pathways: dPathways, ratio: dRatio, count: dCount, padj: dPadj,
  pDomain: [0.025, 0.123], pTicks: dPTicks,
  cMin: 4, cMax: 16, rMin: 9, rMax: 24.5, countBreaks: dCountBreaks,
  legend: {x: 3287, titleY: 1453, barTop: 1493, barBottom: 1681, barW: 38,
           countTitleY: 1793, countY: [1851, 1894, 1940, 1993], dotX: 3313, labX: 3378}});

panelLabel("(a)", 18, 79);
panelLabel("(b)", 1764, 79);
panelLabel("(c)", 18, 1234);
panelLabel("(d)", 1764, 1234);
</script>
</body></html>
